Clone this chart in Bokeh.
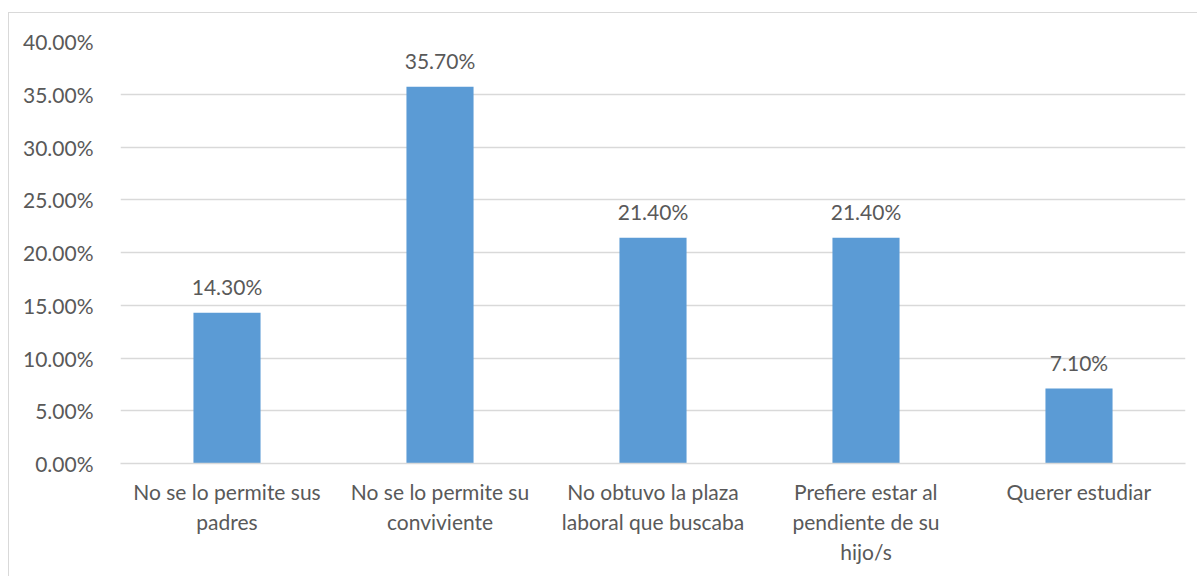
from bokeh.plotting import figure
from bokeh.models import Range1d, FactorRange, FixedTicker, PrintfTickFormatter, ColumnDataSource
from bokeh.core.properties import value
from bokeh.embed import file_html
from bokeh.resources import INLINE

categories = [
    "No se lo permite sus\npadres",
    "No se lo permite su\nconviviente",
    "No obtuvo la plaza\nlaboral que buscaba",
    "Prefiere estar al\npendiente de su\nhijo/s",
    "Querer estudiar",
]
values = [14.3, 35.7, 21.4, 21.4, 7.1]
y_ticks = [0, 5, 10, 15, 20, 25, 30, 35, 40]

FONT = "Lato"
TXT = "#595959"

labels = [f"{v:.2f}%" for v in values]
src = ColumnDataSource(dict(cat=categories, val=values, lab=labels))

p = figure(
    width=1189, height=564,
    x_range=FactorRange(*categories),
    y_range=Range1d(0, 40),
    output_backend="svg", toolbar_location=None,
    min_border_left=111, min_border_right=13,
    min_border_top=28, min_border_bottom=114,
)
p.styles = {"margin-top": "12px", "margin-left": "8px",
            "border-left": "1px solid #D9D9D9", "border-top": "1px solid #D9D9D9"}
p.outline_line_color = None
p.background_fill_color = "white"
p.border_fill_color = "white"

p.vbar(x="cat", top="val", width=0.315, source=src, color="#5B9BD5", line_color=None)
p.text(x="cat", y="val", text="lab", source=src, text_align="center",
       text_baseline="alphabetic", y_offset=-26, text_color=TXT,
       text_font=value(FONT), text_font_size="21px")

p.xgrid.grid_line_color = None
p.ygrid.grid_line_color = "#D9D9D9"
p.ygrid.grid_line_width = 1.3
p.yaxis.ticker = FixedTicker(ticks=y_ticks)
p.yaxis.formatter = PrintfTickFormatter(format="%.2f%%")
p.yaxis.axis_line_color = None
p.yaxis.major_tick_line_color = None
p.yaxis.minor_tick_line_color = None
p.yaxis.major_label_standoff = 21
p.yaxis.major_label_text_font = FONT
p.yaxis.major_label_text_font_size = "21px"
p.yaxis.major_label_text_color = TXT

p.xaxis.axis_line_color = "#D9D9D9"
p.xaxis.axis_line_width = 1.5
p.xaxis.major_tick_line_color = None
p.xaxis.minor_tick_line_color = None
p.xaxis.major_label_standoff = 9
p.xaxis.major_label_text_font = FONT
p.xaxis.major_label_text_font_size = "21px"
p.xaxis.major_label_text_color = TXT
p.xaxis.major_label_orientation = "horizontal"

open("out.html", "w").write(file_html(p, INLINE))
